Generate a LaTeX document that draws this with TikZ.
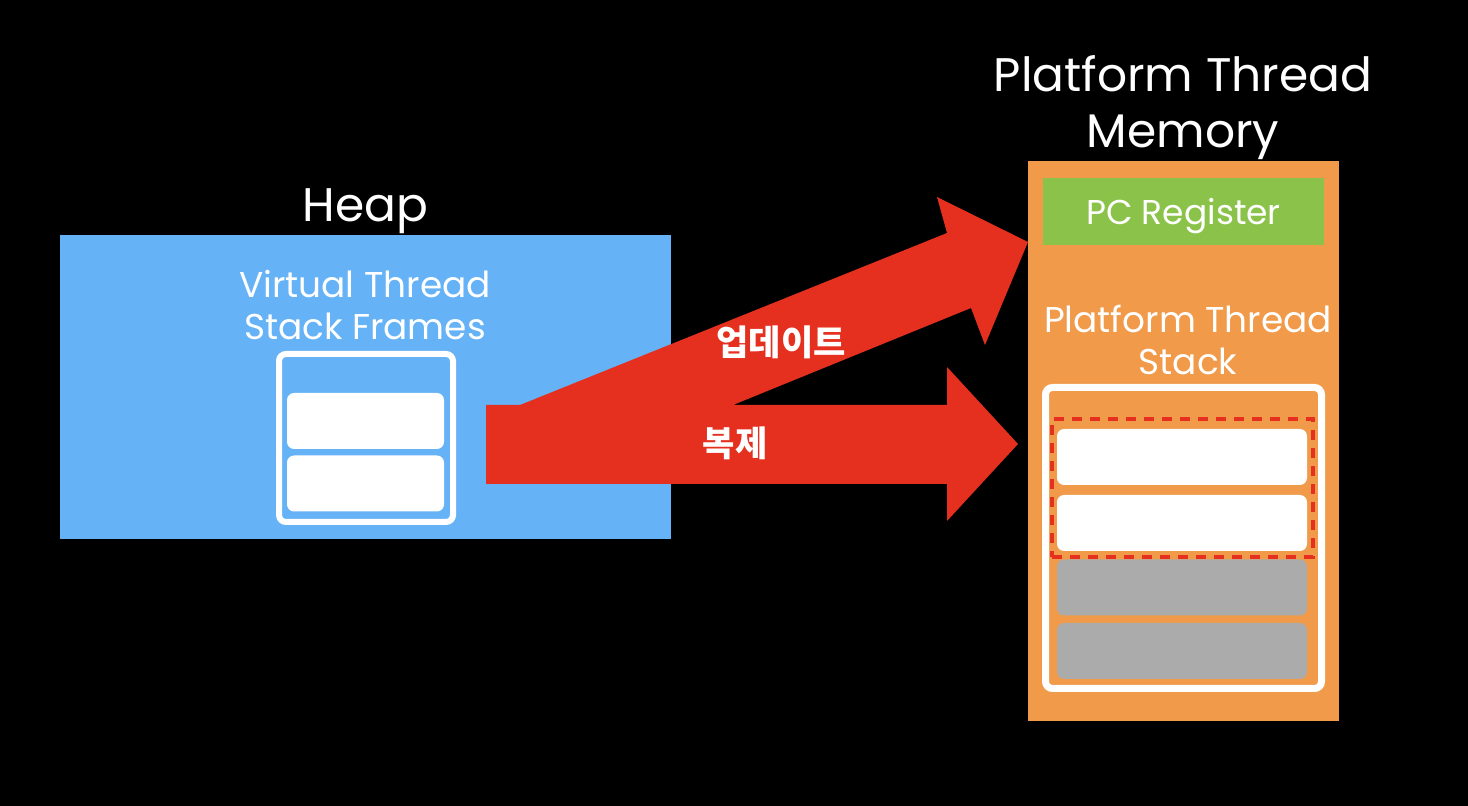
\documentclass[tikz,border=0pt]{standalone}
\usepackage{fontspec}
\setmainfont{Poppins}
\newfontfamily\korfont{Noto Sans CJK KR}
\usetikzlibrary{positioning}

\definecolor{heapblue}{HTML}{66B2F6}
\definecolor{memorange}{HTML}{F09A4A}
\definecolor{pcgreen}{HTML}{8BC34A}
\definecolor{arrowred}{HTML}{E5301F}
\definecolor{slotgray}{HTML}{ABABAB}

\begin{document}
\begin{tikzpicture}[
    region/.style={rectangle, inner sep=0pt},
    frame/.style={rectangle, draw=white, line width=0.06cm, rounded corners=2pt, inner sep=0pt},
    slot/.style={rectangle, rounded corners=2pt, inner sep=0pt, minimum height=0.56cm},
    hdr/.style={text=white, font=\fontsize{13.4}{16}\selectfont, align=center, inner sep=0pt},
    lbl/.style={text=white, font=\fontsize{10.2}{12.1}\selectfont, align=center, inner sep=0pt},
    kor/.style={text=white, font=\korfont\bfseries\fontsize{10}{12}\selectfont, inner sep=0pt}]

    \useasboundingbox (0,0) rectangle (14.68,-8.06);
    \fill[black] (0,0) rectangle (14.68,-8.06);

    % heap side
    \node[region, fill=heapblue, minimum width=6.11cm, minimum height=3.04cm] (heap) at (3.655,-3.87) {};
    \node[hdr, anchor=base] (heaptitle) at (3.655,-2.22) {Heap};
    \node[lbl, anchor=base] (vtlabel) at (3.65,-3.40) {Virtual Thread\\Stack Frames};
    \node[frame, minimum width=1.74cm, minimum height=1.68cm] (vtframe) at (3.66,-4.38) {};
    \node[slot, fill=white, minimum width=1.57cm] (vtslota) at (3.655,-4.21) {};
    \node[slot, fill=white, minimum width=1.57cm] (vtslotb) at (3.655,-4.835) {};

    % platform thread memory
    \node[region, fill=memorange, minimum width=3.11cm, minimum height=5.60cm] (mem) at (11.835,-4.41) {};
    \node[hdr, anchor=base] (memtitle) at (11.83,-1.48) {Platform Thread\\Memory};
    \node[region, fill=pcgreen, minimum width=2.81cm, minimum height=0.67cm] (pcreg) at (11.835,-2.115) {};
    \node[text=white, font=\fontsize{9.8}{10}\selectfont, anchor=base, inner sep=0pt] (pctext) at (11.835,-2.25) {PC Register};
    \node[lbl, anchor=base] (ptlabel) at (11.88,-3.75) {Platform Thread\\Stack};
    \node[frame, line width=0.07cm, minimum width=2.76cm, minimum height=3.01cm] (ptframe) at (11.835,-5.38) {};
    \node[slot, fill=white, minimum width=2.50cm] (ptslota) at (11.82,-4.57) {};
    \node[slot, fill=white, minimum width=2.50cm] (ptslotb) at (11.82,-5.23) {};
    \node[slot, fill=slotgray, minimum width=2.50cm] (ptslotc) at (11.82,-5.875) {};
    \node[slot, fill=slotgray, minimum width=2.50cm] (ptslotd) at (11.82,-6.51) {};
    \node[rectangle, draw=arrowred, line width=0.04cm, dash pattern=on 0.1cm off 0.08cm,
          minimum width=2.61cm, minimum height=1.38cm, inner sep=0pt] (copied) at (11.825,-4.88) {};

    % the two big arrows
    \fill[arrowred] (4.86,-4.05) -- (5.20,-4.05) -- (9.47,-2.33) -- (9.37,-1.97) -- (10.28,-2.42)
        -- (9.85,-3.45) -- (9.71,-3.08) -- (7.33,-4.05) -- (9.47,-4.05) -- (9.47,-3.67)
        -- (10.18,-4.44) -- (9.47,-5.21) -- (9.47,-4.84) -- (4.86,-4.84) -- cycle;

    \node[kor] (update) at (7.81,-3.42) {업데이트};
    \node[kor] (copy) at (7.35,-4.43) {복제};
\end{tikzpicture}
\end{document}
